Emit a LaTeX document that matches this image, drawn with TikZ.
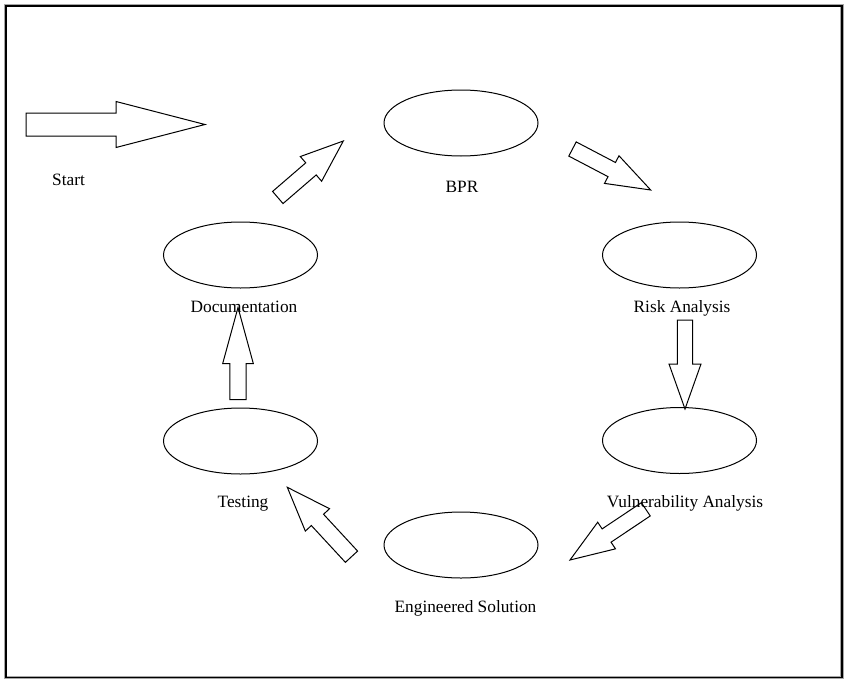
\documentclass[tikz,border=0pt]{standalone}
\usepackage{fontspec}
\setmainfont{Liberation Serif}
\usetikzlibrary{calc,shapes.geometric}

% Block arrow: #1 tail centre, #2 tip, #3 shaft half width, #4 head half width, #5 head length
\newcommand\blockarr[5]{%
  \draw[blockarrow]
    ($#1!#3!90:#2$) --
    ($($#2!#5!#1$)!#3!-90:#1$) --
    ($($#2!#5!#1$)!#4!-90:#1$) --
    #2 --
    ($($#2!#5!#1$)!#4!90:#1$) --
    ($($#2!#5!#1$)!#3!90:#1$) --
    ($#1!#3!-90:#2$) -- cycle;}

\begin{document}
\begin{tikzpicture}[x=1pt,y=-1pt,
  stage/.style={draw=black, line width=1pt, ellipse, minimum width=154pt,
    minimum height=66pt, inner sep=0pt},
  caption/.style={anchor=base, inner sep=0pt,
    font=\fontsize{17.3}{20}\selectfont},
  blockarrow/.style={draw=black, line width=1pt, fill=white, line join=miter}]

\useasboundingbox (0,0) rectangle (845,680);

% page frame
\draw[gray!70, line width=3.4pt] (5.6,5.6) rectangle (842,677.4);
\draw[black, line width=1.8pt] (5.6,5.6) rectangle (842,677.4);

% process stages
\node[stage] (bpr)  at (461,123) {};
\node[stage] (risk) at (679.5,255) {};
\node[stage] (vuln) at (679.5,440.5) {};
\node[stage] (eng)  at (461,545) {};
\node[stage] (test) at (240.5,441) {};
\node[stage] (doc)  at (240.5,255) {};

% block arrows around the cycle
\coordinate (s0) at (26,124.5);   \coordinate (s1) at (205,124.5);
\coordinate (a0) at (277.8,197.5); \coordinate (a1) at (343.3,141);
\coordinate (b0) at (572.5,149);  \coordinate (b1) at (650.7,190);
\coordinate (c0) at (685,320);    \coordinate (c1) at (685,409);
\coordinate (d0) at (645.8,509.3); \coordinate (d1) at (570,560);
\coordinate (e0) at (351.5,556.7); \coordinate (e1) at (287.3,487.3);
\coordinate (f0) at (238,399.5);  \coordinate (f1) at (238,307.5);

\blockarr{(s0)}{(s1)}{11.5pt}{23pt}{89pt}
\blockarr{(a0)}{(a1)}{8pt}{16.3pt}{42.7pt}
\blockarr{(b0)}{(b1)}{8pt}{15.6pt}{44pt}
\blockarr{(c0)}{(c1)}{7.7pt}{16pt}{45pt}
\blockarr{(d0)}{(d1)}{8pt}{16pt}{44pt}
\blockarr{(e0)}{(e1)}{8.3pt}{16.5pt}{44.4pt}
\blockarr{(f0)}{(f1)}{8.2pt}{15.3pt}{56pt}

% stage captions, set over the arrows
\node[caption] (tstart) at (68.5,185) {Start};
\node[caption] (tbpr)   at (462,192) {BPR};
\node[caption] (trisk)  at (682,312) {Risk Analysis};
\node[caption] (tvuln)  at (685,507) {Vulnerability Analysis};
\node[caption] (teng)   at (465.5,612) {Engineered Solution};
\node[caption] (ttest)  at (243,507) {Testing};
\node[caption] (tdoc)   at (244,312) {Documentation};

\end{tikzpicture}
\end{document}
